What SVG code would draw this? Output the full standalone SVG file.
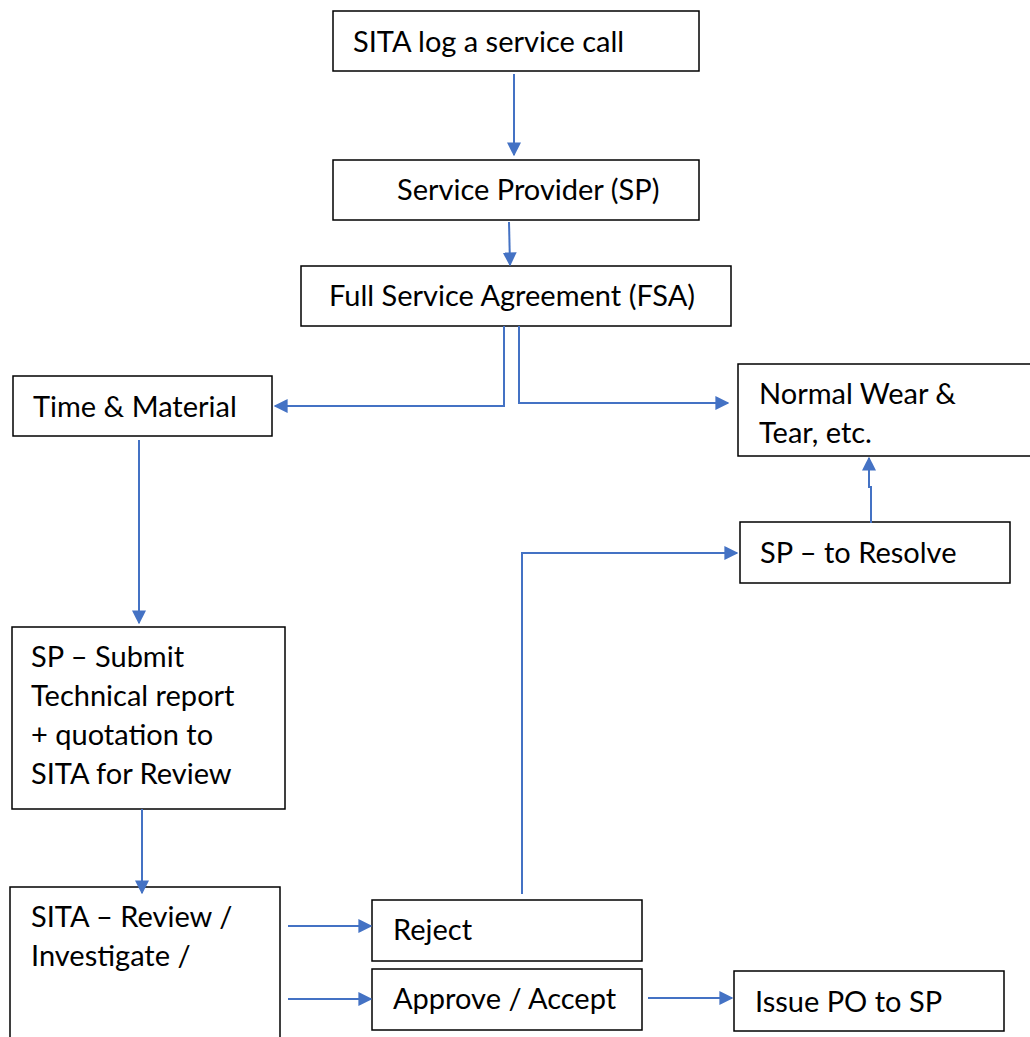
<svg xmlns="http://www.w3.org/2000/svg" width="1030" height="1037" viewBox="0 0 1030 1037">
<defs>
<style>
.box{fill:#fff;stroke:#000;stroke-width:1.5}
.t{font-family:Lato,"Liberation Sans",sans-serif;font-size:29px;fill:#000}
.c{fill:none;stroke:#4472C4;stroke-width:2}
</style>
<marker id="ah" viewBox="0 0 10 10" refX="9" refY="5" markerWidth="7" markerHeight="7" orient="auto" markerUnits="strokeWidth">
<path d="M0,0 L10,5 L0,10 z" fill="#4472C4"/>
</marker>
</defs>
<rect width="1030" height="1037" fill="#fff"/>
<g id="n1"><rect class="box" x="333" y="11" width="366" height="60"/><text class="t" x="353" y="52">SITA log a service call</text></g>
<g id="n2"><rect class="box" x="333" y="160" width="366" height="60"/><text class="t" x="397" y="200">Service Provider (SP)</text></g>
<g id="n3"><rect class="box" x="301" y="266" width="430" height="60"/><text class="t" x="329" y="306">Full Service Agreement (FSA)</text></g>
<g id="n4"><rect class="box" x="13" y="376" width="259" height="60"/><text class="t" x="33" y="417">Time &amp; Material</text></g>
<g id="n5"><rect class="box" x="738" y="364" width="300" height="92"/><text class="t" x="759" y="404">Normal Wear &amp;</text><text class="t" x="759" y="443">Tear, etc.</text></g>
<g id="n6"><rect class="box" x="740" y="522" width="270" height="61"/><text class="t" x="760" y="563">SP – to Resolve</text></g>
<g id="n7"><rect class="box" x="12" y="627" width="273" height="182"/><text class="t" x="31" y="667">SP – Submit</text><text class="t" x="31" y="706">Technical report</text><text class="t" x="31" y="745">+ quotation to</text><text class="t" x="31" y="784">SITA for Review</text></g>
<g id="n8"><rect class="box" x="10" y="887" width="270" height="160"/><text class="t" x="31" y="927">SITA – Review /</text><text class="t" x="31" y="966">Investigate /</text></g>
<g id="n9"><rect class="box" x="372" y="900" width="270" height="61"/><text class="t" x="393" y="940">Reject</text></g>
<g id="n10"><rect class="box" x="372" y="969" width="270" height="61"/><text class="t" x="393" y="1009">Approve / Accept</text></g>
<g id="n11"><rect class="box" x="734" y="971" width="270" height="60"/><text class="t" x="755" y="1012">Issue PO to SP</text></g>
<g id="connectors">
<path class="c" d="M514,74 V155" marker-end="url(#ah)"/>
<path class="c" d="M509,222 L510,265" marker-end="url(#ah)"/>
<path class="c" d="M504,326 V406 H275" marker-end="url(#ah)"/>
<path class="c" d="M519,326 V403 H728" marker-end="url(#ah)"/>
<path class="c" d="M139,440 V623" marker-end="url(#ah)"/>
<path class="c" d="M871,523 V487 H869 V458" marker-end="url(#ah)"/>
<path class="c" d="M522,894 V553 H737" marker-end="url(#ah)"/>
<path class="c" d="M142,809 V893" marker-end="url(#ah)"/>
<path class="c" d="M288,926 H371" marker-end="url(#ah)"/>
<path class="c" d="M288,999 H371" marker-end="url(#ah)"/>
<path class="c" d="M648,998 H732" marker-end="url(#ah)"/>
</g>
</svg>
